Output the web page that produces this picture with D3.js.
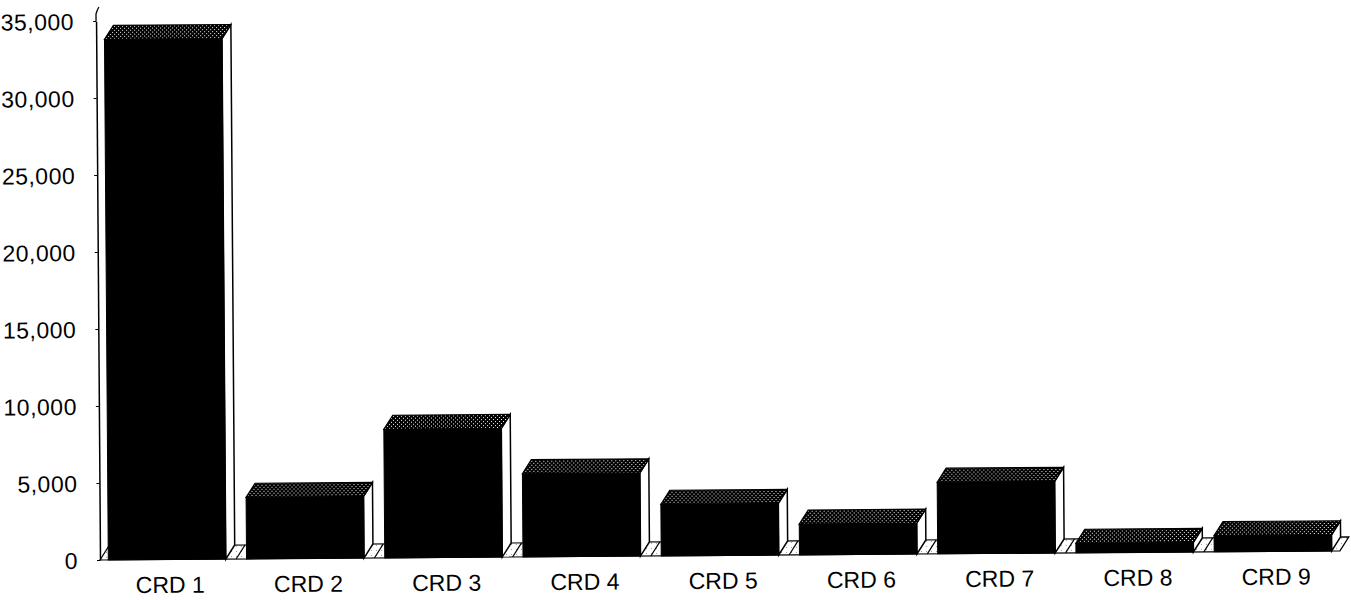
<!DOCTYPE html>
<html>
<head>
<meta charset="utf-8">
<script src="https://cdn.jsdelivr.net/npm/d3@7"></script>
<style>
  html, body { margin: 0; padding: 0; background: #fff; }
  svg { display: block; }
  text { font-family: "Liberation Sans", Arial, sans-serif; fill: #000; }
</style>
</head>
<body>
<svg id="chart" width="1351" height="600"></svg>
<script>
// Categories and their totals
const categories = ["CRD 1", "CRD 2", "CRD 3", "CRD 4", "CRD 5", "CRD 6", "CRD 7", "CRD 8", "CRD 9"];
const values = [33800, 4000, 8350, 5400, 3350, 2000, 4650, 620, 1050];
const tickValues = [0, 5000, 10000, 15000, 20000, 25000, 30000, 35000];

const depthX = 9, depthY = 14;   // offset of the back plane of each 3-D bar

const svg = d3.select("#chart");

// dotted fill for the top faces
const defs = svg.append("defs");
const pat = defs.append("pattern")
  .attr("id", "stipple").attr("patternUnits", "userSpaceOnUse")
  .attr("width", 4).attr("height", 4);
pat.append("rect").attr("width", 4).attr("height", 4).attr("fill", "#000");
pat.append("rect").attr("x", 0).attr("y", 0).attr("width", 1).attr("height", 1).attr("fill", "#fff");
pat.append("rect").attr("x", 2).attr("y", 2).attr("width", 1).attr("height", 1).attr("fill", "#fff");

const floorPat = defs.append("pattern")
  .attr("id", "floorDots").attr("patternUnits", "userSpaceOnUse")
  .attr("width", 5).attr("height", 5);
floorPat.append("rect").attr("width", 5).attr("height", 5).attr("fill", "#fff");
floorPat.append("rect").attr("x", 1).attr("y", 2).attr("width", 1).attr("height", 1).attr("fill", "#999");

// the whole chart sits slightly tilted
const g = svg.append("g").attr("transform", "rotate(-0.42, 100, 560)");

const x = d3.scaleBand()
  .domain(categories)
  .range([100, 1340])
  .paddingInner(0.15)
  .paddingOuter(0.06);

const y = d3.scaleLinear().domain([0, 35000]).range([560, 21]);

const y0 = y(0);
const line = d3.line();

// floor strip
const floorLeft = x.range()[0], floorRight = x.range()[1];
g.append("path")
  .attr("d", line([[floorLeft, y0], [floorLeft + depthX, y0 - depthY],
                   [floorRight + depthX, y0 - depthY], [floorRight, y0]]) + "Z")
  .attr("fill", "url(#floorDots)").attr("stroke", "#000").attr("stroke-width", 1.2);

// floor dividers between categories
const bounds = categories.slice(1).map(c => x(c) - (x.step() - x.bandwidth()) / 2);
g.selectAll("line.divider").data(bounds).join("line")
  .attr("class", "divider")
  .attr("x1", d => d).attr("y1", y0)
  .attr("x2", d => d + depthX).attr("y2", y0 - depthY)
  .attr("stroke", "#000").attr("stroke-width", 1.2);

// y axis
const yAxis = g.append("g")
  .attr("transform", "translate(100,0)")
  .call(d3.axisLeft(y).tickValues(tickValues).tickFormat(d3.format(","))
    .tickSize(3).tickSizeOuter(0).tickPadding(19));
yAxis.select(".domain").attr("stroke", "#000").attr("stroke-width", 1.5);
yAxis.selectAll(".tick line").attr("stroke", "#000");
yAxis.selectAll("text").style("font-size", "23px").attr("dy", "0.36em").attr("letter-spacing", "0.5px");
g.append("path").attr("d", "M100,21 L100,14 Q101,10 103,7")
  .attr("fill", "none").attr("stroke", "#000").attr("stroke-width", 1.3);

// bars
const bars = g.selectAll("g.bar").data(categories.map((c, i) => ({ c, v: values[i] })))
  .join("g").attr("class", "bar");

bars.append("path") // right side face
  .attr("d", d => {
    const xr = x(d.c) + x.bandwidth();
    return line([[xr, y(d.v)], [xr + depthX, y(d.v) - depthY],
                 [xr + depthX, y0 - depthY], [xr, y0]]) + "Z";
  })
  .attr("fill", "#fff").attr("stroke", "#000").attr("stroke-width", 1.5);

bars.append("rect") // front face
  .attr("x", d => x(d.c)).attr("y", d => y(d.v))
  .attr("width", x.bandwidth()).attr("height", d => y0 - y(d.v))
  .attr("fill", "#000").attr("stroke", "#000").attr("stroke-width", 1);

bars.append("path") // top face
  .attr("d", d => {
    const xl = x(d.c), xr = xl + x.bandwidth(), yt = y(d.v);
    return line([[xl, yt], [xl + depthX, yt - depthY],
                 [xr + depthX, yt - depthY], [xr, yt]]) + "Z";
  })
  .attr("fill", "url(#stipple)").attr("stroke", "#000").attr("stroke-width", 1.2);

// category labels
const xAxis = g.append("g")
  .attr("transform", "translate(3,568)")
  .call(d3.axisBottom(x).tickSize(0).tickPadding(9));
xAxis.select(".domain").remove();
xAxis.selectAll("text").style("font-size", "23px");
</script>
</body>
</html>
